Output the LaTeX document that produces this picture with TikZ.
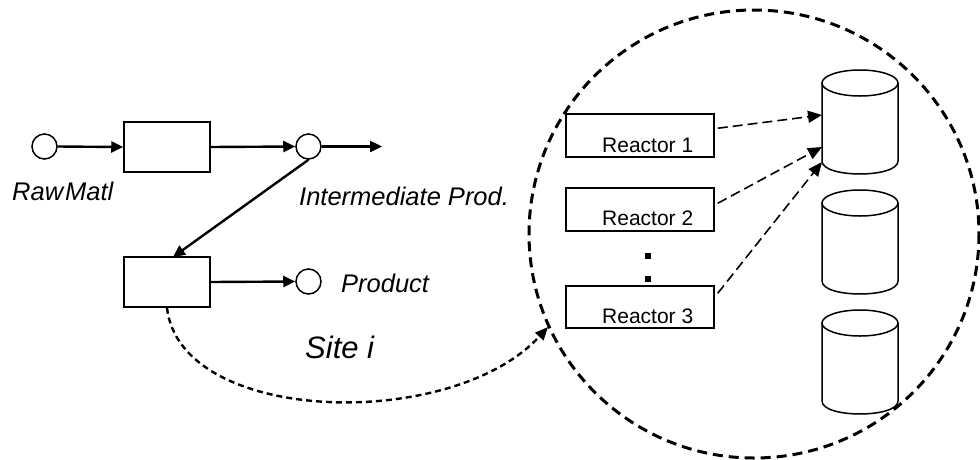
\documentclass[tikz,border=0pt]{standalone}
\usepackage{fontspec}
\setmainfont{Liberation Sans}
\usetikzlibrary{arrows.meta}
\begin{document}
\begin{tikzpicture}[x=1pt,y=-1pt,
  unitbox/.style={draw, line width=1.5pt, rectangle, inner sep=0pt, minimum width=86pt, minimum height=50pt, fill=white},
  reactorbox/.style={draw, line width=1.5pt, rectangle, inner sep=0pt, minimum width=148pt, minimum height=43pt, fill=white},
  statecirc/.style={draw, line width=1.5pt, circle, inner sep=0pt, minimum size=25pt, fill=white},
  flow/.style={line width=2.4pt, -{Triangle[length=12pt,width=11pt]}},
  feed/.style={line width=1.6pt, dash pattern=on 10pt off 5pt, -{Triangle[length=14pt,width=12pt]}},
  sitelink/.style={line width=2.4pt, dash pattern=on 6pt off 4pt, -{Triangle[length=13pt,width=11pt]}},
  boundary/.style={line width=3pt, dash pattern=on 10pt off 6pt},
  lbl/.style={inner sep=0pt, anchor=base west, font=\fontsize{25.5}{30}\selectfont\itshape},
  rlbl/.style={inner sep=0pt, anchor=base west, font=\fontsize{21}{25}\selectfont},
  dotmark/.style={fill, rectangle, inner sep=0pt, minimum size=5.5pt},
  tank/.style={line width=1.5pt, fill=white}
]
\useasboundingbox (0,0) rectangle (980,459);

% site boundary
\draw[boundary] (754,234) ellipse [x radius=225, y radius=224];

% process network
\node[statecirc] (raw) at (44.5,146.5) {};
\node[unitbox] (u1) at (167,147) {};
\node[statecirc] (mid) at (308.5,146.5) {};
\node[unitbox] (u2) at (167,282) {};
\node[statecirc] (prod) at (308.5,281.5) {};
\coordinate (midout) at (382,146.5);
\coordinate (u2in) at (173,257);

\draw[flow] (raw.east) -- (u1.west);
\draw[flow] (u1.east) -- (mid.west);
\draw[flow] (mid.east) -- (midout);
\draw[flow] (mid.south) -- (u2in);
\draw[flow] (u2.east) -- (prod.west);

\node[lbl] (lraw) at (12,200) {Raw\kern2pt Matl};
\node[lbl] (lmid) at (299,205.5) {Intermediate Prod.};
\node[lbl] (lprod) at (341,292) {Product};
\node[lbl, font=\fontsize{31}{36}\selectfont\itshape] (lsite) at (305,358) {Site i};

% link from the site to its detail
\coordinate (sitein) at (548,327);
\draw[sitelink] (u2.south) .. controls (180,425) and (452,432) .. (sitein);

% reactors
\node[reactorbox] (r1) at (640,135.5) {};
\node[reactorbox] (r2) at (640,209.5) {};
\node[reactorbox, minimum height=42pt] (r3) at (640,307) {};
\node[rlbl] (lr1) at (602,152.3) {Reactor 1};
\node[rlbl] (lr2) at (602,225) {Reactor 2};
\node[rlbl] (lr3) at (602,323) {Reactor 3};
\node[dotmark] (d1) at (648,256) {};
\node[dotmark] (d2) at (648,279) {};

% storage tanks
\foreach \t/\b in {70/174, 190/294, 310/414}{
  \fill[white] (822,\t+13) -- (822,\b-13) .. controls (822,\b+4.3) and (898,\b+4.3) .. (898,\b-13) -- (898,\t+13) -- cycle;
  \draw[tank] (822,\t+13) -- (822,\b-13) .. controls (822,\b+4.3) and (898,\b+4.3) .. (898,\b-13) -- (898,\t+13);
  \draw[tank] (860,\t+13) ellipse [x radius=38, y radius=13];
}
\coordinate (tk1) at (822,115);
\coordinate (tk2) at (822,147);
\coordinate (tk3) at (822,162);

\draw[feed] ([shift={(3,15)}]r1.north east) -- (tk1);
\draw[feed] ([shift={(3,16)}]r2.north east) -- (tk2);
\draw[feed] ([shift={(3,8)}]r3.north east) -- (tk3);
\end{tikzpicture}
\end{document}
